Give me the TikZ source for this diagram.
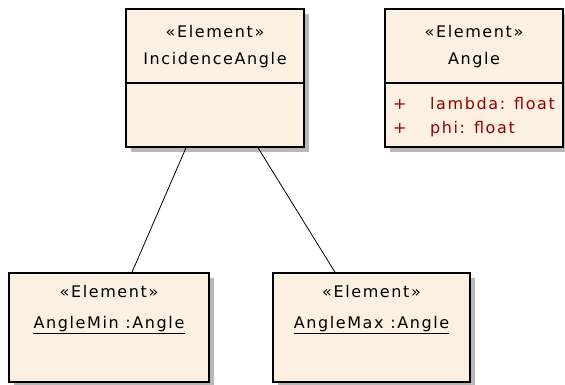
\documentclass[tikz,border=0pt]{standalone}
\usepackage{fontspec}
\newfontfamily\umlfont[LetterSpace=10]{DejaVu Sans}
\usetikzlibrary{shadows,positioning,calc}
\definecolor{elemfill}{RGB}{251,240,226}
\definecolor{attrred}{RGB}{150,0,0}
\tikzset{>=latex}
\tikzset{
  elembox/.style={draw, line width=1.5pt, fill=elemfill, inner sep=0pt,
    drop shadow={shadow xshift=5pt, shadow yshift=-5pt, fill=black!28, opacity=1}},
  elemtxt/.style={font=\umlfont\fontsize{16}{18}\selectfont, inner sep=0pt, anchor=base},
  attrtxt/.style={elemtxt, text=attrred, anchor=base west},
  divider/.style={line width=1.2pt},
  link/.style={line width=0.8pt},
}

\begin{document}
\begin{tikzpicture}[x=1pt,y=-1pt]
\useasboundingbox (0,0) rectangle (565,385);

% element boxes
\node[elembox, minimum width=178pt, minimum height=138pt] (incid) at (215,78) {};
\node[elembox, minimum width=178pt, minimum height=138pt] (angle) at (474,78) {};
\node[elembox, minimum width=200pt, minimum height=109pt] (amin) at (109,327.5) {};
\node[elembox, minimum width=197pt, minimum height=109pt] (amax) at (371.5,327.5) {};

% IncidenceAngle
\node[elemtxt] (incid-st) at (215,38) {«Element»};
\node[elemtxt] (incid-nm) at (215,65) {IncidenceAngle};
\draw[divider] (incid.west |- 0,83) -- (incid.east |- 0,83);

% Angle
\node[elemtxt] (angle-st) at (474,38) {«Element»};
\node[elemtxt] (angle-nm) at (474,65) {Angle};
\draw[divider] (angle.west |- 0,83) -- (angle.east |- 0,83);
\node[attrtxt] (attr1-vis) at (393,110) {+};
\node[attrtxt] (attr1) at (430,110) {lambda: float};
\node[attrtxt] (attr2-vis) at (393,134) {+};
\node[attrtxt] (attr2) at (430,134) {phi: float};

% instances
\node[elemtxt] (amin-st) at (109,297) {«Element»};
\node[elemtxt] (amin-nm) at (109,328) {AngleMin :Angle};
\draw[line width=1pt] ([yshift=-5pt]amin-nm.base west) -- ([yshift=-5pt]amin-nm.base east);
\node[elemtxt] (amax-st) at (371.5,297) {«Element»};
\node[elemtxt] (amax-nm) at (371.5,328) {AngleMax :Angle};
\draw[line width=1pt] ([yshift=-5pt]amax-nm.base west) -- ([yshift=-5pt]amax-nm.base east);

% links
\draw[link] ([xshift=-29pt]incid.south) -- ([xshift=23pt]amin.north);
\draw[link] ([xshift=43pt]incid.south) -- ([xshift=-36.5pt]amax.north);
\end{tikzpicture}
\end{document}
